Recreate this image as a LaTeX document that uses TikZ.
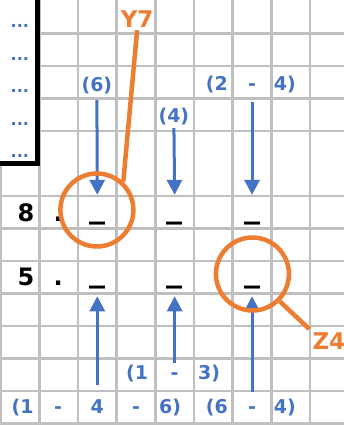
\documentclass[tikz,border=0pt]{standalone}
\usepackage{fontspec}
\setmainfont{DejaVu Sans}
\usepackage{tikz}
\usetikzlibrary{arrows.meta}
\definecolor{xlblue}{HTML}{4472C4}
\definecolor{xlorange}{HTML}{ED7D31}
\definecolor{xlgrid}{HTML}{BFBFBF}
\tikzset{
  gridline/.style={xlgrid,line width=2.6pt},
  digit/.style={anchor=base,inner sep=0pt,font=\bfseries\fontsize{24}{24}\selectfont},
  blank/.style={anchor=base,inner sep=0pt,text height=26pt,text depth=11pt,
    font=\bfseries\fontsize{32}{32}\selectfont},
  hint/.style={anchor=base,inner sep=0pt,text height=14pt,text depth=0pt,
    text=xlblue,font=\bfseries\fontsize{19}{19}\selectfont},
  more/.style={anchor=base,inner sep=0pt,text=xlblue,font=\bfseries\fontsize{16}{16}\selectfont},
  pointer/.style={->,xlblue,line width=3pt},
  ring/.style={circle,draw=xlorange,line width=4.5pt,minimum size=73pt,inner sep=0pt},
  tag/.style={anchor=base,inner sep=3pt,text depth=0pt,text=xlorange,
    font=\bfseries\fontsize{23}{23}\selectfont},
}

\begin{document}
\begin{tikzpicture}[x=38.7pt, y=-32.5pt, >={Triangle[length=15pt,width=15pt]}]
  \useasboundingbox (-0.013,-0.031) rectangle (8.876,13.046);
  % grid
  \foreach \c in {1,...,8}
    \draw[gridline] (\c,-0.1) -- (\c,13.2);
  \draw[gridline] (0,5) -- (0,13.2);
  \foreach \r in {1,...,4}
    \draw[gridline] (1,\r) -- (9,\r);
  \foreach \r in {6,...,13}
    \draw[gridline] (-0.1,\r) -- (9,\r);
  \draw[line width=5pt] (-0.1,5) -- (0.956,5) -- (0.956,-0.1);
  \foreach \r/\b in {0/0.83,1/1.82,2/2.8,3/3.82,4/4.8}
    \node[more] (dots\r) at (0.5,\b) {...};

  % the two rows
  \node[digit] (n8) at (0.66,6.77) {8};
  \node[digit] (p8) at (1.49,6.77) {.};
  \node[blank] (b82) at (2.5,6.77) {\raisebox{4pt}{\_}};
  \node[blank] (b84) at (4.5,6.77) {\raisebox{4pt}{\_}};
  \node[blank] (b86) at (6.5,6.77) {\raisebox{4pt}{\_}};
  \node[digit] (n5) at (0.66,8.74) {5};
  \node[digit] (p5) at (1.49,8.74) {.};
  \node[blank] (b52) at (2.5,8.74) {\raisebox{4pt}{\_}};
  \node[blank] (b54) at (4.5,8.74) {\raisebox{4pt}{\_}};
  \node[blank] (b56) at (6.5,8.74) {\raisebox{4pt}{\_}};

  % hints above
  \node[hint] (h6) at (2.49,2.77) {(6)};
  \node[hint] (h4) at (4.48,3.75) {(4)};
  \node[hint] (h2a) at (5.59,2.74) {(2};
  \node[hint] (h2b) at (6.5,2.74) {-};
  \node[hint] (h2c) at (7.35,2.74) {4)};

  % hints below
  \node[hint] (k1) at (3.53,11.66) {(1};
  \node[hint] (k2) at (4.5,11.66) {-};
  \node[hint] (k3) at (5.39,11.66) {3)};
  \node[hint] (m1) at (0.57,12.68) {(1};
  \node[hint] (m2) at (1.49,12.68) {-};
  \node[hint] (m3) at (2.5,12.68) {4};
  \node[hint] (m4) at (3.5,12.68) {-};
  \node[hint] (m5) at (4.38,12.68) {6)};
  \node[hint] (m6) at (5.59,12.68) {(6};
  \node[hint] (m7) at (6.5,12.68) {-};
  \node[hint] (m8) at (7.35,12.68) {4)};

  % arrows
  \draw[pointer,shorten <=9pt] (h6.south) -- (b82.north);
  \draw[pointer,shorten <=5pt] (h4.south) -- (b84.north);
  \draw[pointer,shorten <=12pt] (h2b.south) -- (b86.north);
  \draw[pointer,shorten <=14pt] (m3.north) -- (b52.south);
  \draw[pointer,shorten <=3pt] (k2.north) -- (b54.south);
  \draw[pointer,shorten <=7pt] (m7.north) -- (b56.south);

  % marks
  \node[ring] (r1) at (2.49,6.43) {};
  \node[ring] (r2) at (6.51,8.40) {};
  \node[tag] (y7) at (3.53,0.8) {Y7};
  \node[tag,anchor=base west] (z4) at (7.98,10.71) {Z4};
  \draw[xlorange,line width=4.5pt] (r1.47) -- (y7.south);
  \draw[xlorange,line width=4.5pt] (r2.-45) -- (z4.north west);
\end{tikzpicture}
\end{document}
